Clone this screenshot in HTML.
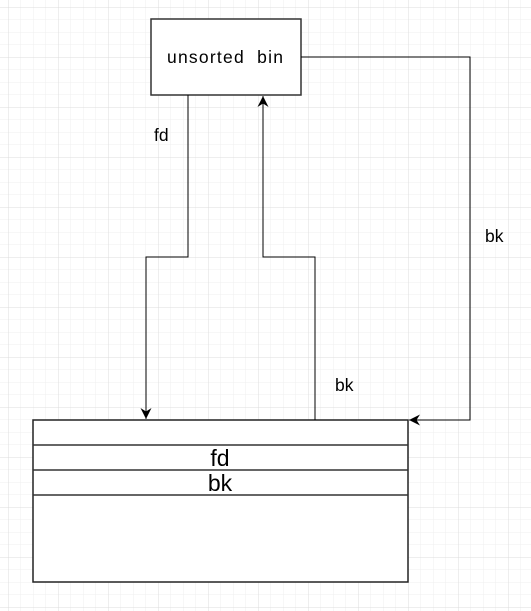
<!DOCTYPE html>
<html><head><style>
html,body{margin:0;padding:0;background:#fff;}
svg{display:block;}
text{font-family:"Liberation Sans",sans-serif;fill:#000;}
</style></head><body>
<svg width="531" height="611" xmlns="http://www.w3.org/2000/svg">
<defs>
<pattern id="minor" x="8" y="7" width="12.5" height="12.5" patternUnits="userSpaceOnUse">
<path d="M0 0H12.5M0 0V12.5" stroke="#efefef" stroke-width="1" fill="none"/>
</pattern>
<pattern id="major" x="8" y="7" width="50" height="50" patternUnits="userSpaceOnUse">
<path d="M0 0H50M0 0V50" stroke="#dcdcdc" stroke-width="1" fill="none"/>
</pattern>
<marker id="ar" markerWidth="12" markerHeight="12" refX="11" refY="6" orient="auto" markerUnits="userSpaceOnUse">
<path d="M0 0.5 L11 6 L0 11.5 L3.5 6 Z" fill="#000"/>
</marker>
</defs>
<rect width="531" height="611" fill="url(#minor)"/>
<rect width="531" height="611" fill="url(#major)"/>

<rect x="151" y="19" width="150" height="76" fill="#fff" stroke="#333" stroke-width="1.5"/>
<text x="225" y="63" font-size="17.5" text-anchor="middle" xml:space="preserve" textLength="116" lengthAdjust="spacing">unsorted  bin</text>

<rect x="33" y="420" width="375" height="162" fill="#fff" stroke="#222" stroke-width="1.5"/>
<line x1="33" y1="445" x2="408" y2="445" stroke="#333" stroke-width="1.5"/>
<line x1="33" y1="470" x2="408" y2="470" stroke="#333" stroke-width="1.5"/>
<line x1="33" y1="495" x2="408" y2="495" stroke="#333" stroke-width="1.5"/>
<text x="220" y="466" font-size="23" text-anchor="middle">fd</text>
<text x="220" y="491" font-size="23" text-anchor="middle">bk</text>

<polyline points="188,95 188,257 146,257 146,419" fill="none" stroke="#000" stroke-width="1" marker-end="url(#ar)"/>
<polyline points="315,420 315,257 263,257 263,96" fill="none" stroke="#000" stroke-width="1" marker-end="url(#ar)"/>
<polyline points="301,57 470,57 470,420 409,420" fill="none" stroke="#000" stroke-width="1" marker-end="url(#ar)"/>

<text x="154" y="141" font-size="17.5">fd</text>
<text x="485" y="242" font-size="17.5">bk</text>
<text x="335" y="391" font-size="17.5">bk</text>
</svg>
</body></html>
